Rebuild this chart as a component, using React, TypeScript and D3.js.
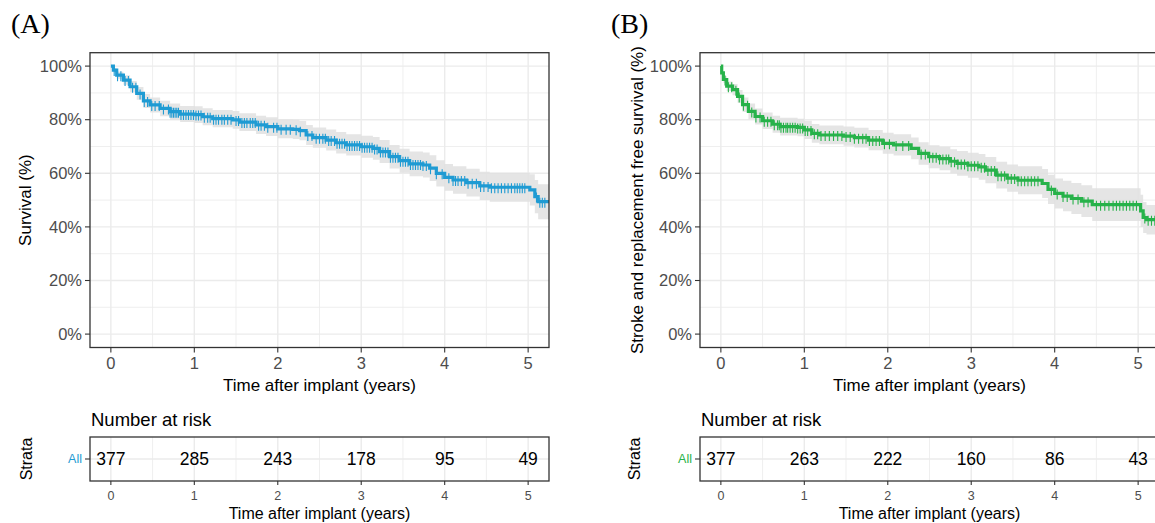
import React from 'react';
import * as d3 from 'd3';

// Panel A: overall survival, step knots (years, %)
const timesA = [0, 0.03, 0.07, 0.15, 0.23, 0.31, 0.39, 0.47, 0.59, 0.71, 0.83, 1.0, 1.1, 1.22, 1.46, 1.54, 1.74, 1.86, 2.0, 2.18, 2.26, 2.34, 2.42, 2.58, 2.7, 2.82, 3.0, 3.14, 3.22, 3.34, 3.46, 3.58, 3.74, 3.82, 3.9, 4.0, 4.1, 4.26, 4.42, 4.54, 5.02, 5.08, 5.12];
const survA = [100, 98.5, 96.6, 94.8, 92.3, 89.8, 87.0, 85.5, 84.2, 83.0, 82.1, 81.9, 81.1, 80.4, 79.9, 79.1, 78.1, 77.4, 76.6, 76.4, 75.9, 74.3, 73.3, 72.4, 71.4, 70.6, 69.9, 69.3, 68.1, 66.2, 64.7, 63.5, 63.1, 61.9, 60.0, 58.5, 57.5, 56.5, 55.3, 54.8, 53.8, 51.3, 49.4];
const upperA = [100, 99.3, 97.9, 96.6, 94.4, 92.2, 89.6, 88.3, 87.1, 86.0, 85.1, 85.0, 84.3, 83.6, 83.2, 82.4, 81.5, 80.9, 80.1, 80.0, 79.5, 78.0, 77.1, 76.3, 75.4, 74.6, 74.0, 73.5, 72.4, 70.6, 69.2, 68.1, 67.8, 66.7, 64.9, 63.5, 62.6, 61.7, 60.6, 60.2, 59.6, 57.5, 55.9];
const lowerA = [100, 97.7, 95.3, 93.0, 90.2, 87.4, 84.4, 82.7, 81.3, 80.0, 79.1, 78.8, 77.9, 77.2, 76.6, 75.8, 74.7, 73.9, 73.1, 72.8, 72.3, 70.6, 69.5, 68.5, 67.4, 66.6, 65.8, 65.1, 63.8, 61.8, 60.2, 58.9, 58.4, 57.1, 55.1, 53.5, 52.4, 51.3, 50.0, 49.4, 48.0, 45.1, 42.9];
const censorA = [0.04, 0.08, 0.12, 0.17, 0.21, 0.26, 0.3, 0.35, 0.4, 0.44, 0.49, 0.53, 0.58, 0.63, 0.69, 0.71, 0.73, 0.75, 0.77, 0.79, 0.81, 0.84, 0.87, 0.9, 0.93, 0.96, 0.99, 1.02, 1.05, 1.08, 1.12, 1.16, 1.19, 1.23, 1.26, 1.29, 1.33, 1.36, 1.4, 1.44, 1.5, 1.53, 1.57, 1.6, 1.63, 1.67, 1.7, 1.73, 1.77, 1.8, 1.84, 1.88, 1.95, 1.99, 2.04, 2.1, 2.15, 2.22, 2.27, 2.36, 2.41, 2.46, 2.5, 2.54, 2.57, 2.61, 2.64, 2.68, 2.71, 2.74, 2.77, 2.8, 2.83, 2.86, 2.89, 2.92, 2.95, 2.98, 3.01, 3.04, 3.07, 3.1, 3.13, 3.16, 3.19, 3.23, 3.26, 3.29, 3.32, 3.35, 3.38, 3.41, 3.44, 3.47, 3.5, 3.53, 3.56, 3.59, 3.62, 3.65, 3.68, 3.71, 3.74, 3.78, 3.83, 3.9, 3.97, 4.05, 4.1, 4.13, 4.16, 4.2, 4.24, 4.28, 4.33, 4.38, 4.43, 4.47, 4.52, 4.56, 4.6, 4.64, 4.68, 4.72, 4.76, 4.8, 4.84, 4.87, 4.9, 4.93, 4.96, 5.1, 5.14, 5.17, 5.2];
const riskA = [377, 285, 243, 178, 95, 49];

// Panel B: stroke and replacement free survival
const timesB = [0, 0.01, 0.03, 0.07, 0.14, 0.2, 0.26, 0.33, 0.41, 0.5, 0.62, 0.71, 0.92, 1.0, 1.09, 1.18, 1.47, 1.6, 1.77, 1.94, 2.07, 2.28, 2.37, 2.49, 2.62, 2.75, 2.83, 2.96, 3.09, 3.17, 3.3, 3.43, 3.56, 3.85, 3.92, 4.0, 4.1, 4.2, 4.32, 4.45, 5.03, 5.06, 5.1];
const survB = [100, 97.5, 95.0, 92.5, 91.2, 88.7, 85.6, 83.1, 81.2, 79.6, 78.3, 77.4, 77.1, 76.2, 74.9, 74.3, 73.9, 73.3, 72.4, 71.2, 70.6, 69.3, 67.4, 66.2, 65.5, 64.5, 63.7, 63.0, 62.4, 61.2, 59.3, 58.2, 57.4, 56.2, 54.0, 52.5, 51.5, 50.6, 49.6, 48.3, 46.0, 43.5, 42.7];
const upperB = [100, 98.3, 96.3, 94.3, 93.3, 91.1, 88.3, 86.0, 84.2, 82.7, 81.5, 80.7, 80.4, 79.6, 78.4, 77.8, 77.5, 77.0, 76.2, 75.1, 74.6, 73.4, 71.6, 70.5, 69.9, 69.0, 68.3, 67.7, 67.2, 66.1, 64.3, 63.3, 62.6, 61.6, 59.5, 58.1, 57.2, 56.4, 55.5, 54.4, 52.0, 49.3, 48.2];
const lowerB = [100, 96.7, 93.7, 90.7, 89.1, 86.3, 82.9, 80.2, 78.2, 76.5, 75.1, 74.1, 73.8, 72.8, 71.4, 70.8, 70.3, 69.6, 68.6, 67.3, 66.6, 65.2, 63.2, 61.9, 61.1, 60.0, 59.1, 58.3, 57.6, 56.3, 54.3, 53.1, 52.2, 50.8, 48.5, 46.9, 45.8, 44.8, 43.7, 42.2, 40.0, 37.7, 37.2];
const censorB = [0.05, 0.09, 0.13, 0.18, 0.22, 0.27, 0.32, 0.37, 0.42, 0.47, 0.52, 0.56, 0.6, 0.64, 0.68, 0.7, 0.72, 0.75, 0.78, 0.8, 0.83, 0.86, 0.89, 0.92, 0.95, 0.98, 1.01, 1.04, 1.08, 1.12, 1.16, 1.2, 1.25, 1.3, 1.35, 1.4, 1.45, 1.5, 1.55, 1.6, 1.65, 1.7, 1.74, 1.78, 1.82, 1.86, 1.9, 1.96, 2.02, 2.1, 2.18, 2.25, 2.4, 2.45, 2.5, 2.54, 2.58, 2.62, 2.66, 2.7, 2.73, 2.76, 2.8, 2.84, 2.88, 2.92, 2.96, 3.0, 3.04, 3.08, 3.12, 3.16, 3.2, 3.24, 3.28, 3.32, 3.36, 3.4, 3.44, 3.48, 3.52, 3.56, 3.6, 3.64, 3.68, 3.72, 3.76, 3.8, 3.96, 4.03, 4.1, 4.15, 4.22, 4.28, 4.35, 4.4, 4.5, 4.55, 4.6, 4.65, 4.7, 4.74, 4.78, 4.82, 4.86, 4.9, 4.94, 4.98, 5.08, 5.12, 5.16, 5.2];
const riskB = [377, 263, 222, 160, 86, 43];

const xTicks = [0, 1, 2, 3, 4, 5];
const yTicks = [0, 20, 40, 60, 80, 100];
const xLabel = 'Time after implant (years)';

const SANS = '"Liberation Sans", Arial, sans-serif';
const SERIF = '"Liberation Serif", "Times New Roman", serif';
const GRID = '#ebebeb';
const BORDER = '#333333';
const TICKTXT = '#4d4d4d';

function KMPanel(props) {
  const { id, left, tag, tagX, yTitle, yTitleX, strataX, color, times, surv, lower, upper, censor, risk } = props;
  const top = 52.7, bottom = 347.5, width = 459;
  const tTop = 437, tBottom = 481;
  const x = d3.scaleLinear().domain([-0.25, 5.25]).range([left, left + width]);
  const y = d3.scaleLinear().domain([-5, 105]).range([bottom, top]);

  const pts = times.map((t, i) => ({ t, s: surv[i], lo: lower[i], hi: upper[i] }));
  const last = pts[pts.length - 1];
  pts.push({ t: 5.25, s: last.s, lo: last.lo, hi: last.hi });

  const line = d3.line().curve(d3.curveStepAfter).x(d => x(d.t)).y(d => y(d.s));
  const band = d3.area().curve(d3.curveStepAfter).x(d => x(d.t)).y0(d => y(d.lo)).y1(d => y(d.hi));
  const bis = d3.bisector(d => d.t).right;
  const survAt = t => pts[Math.max(0, bis(pts, t) - 1)].s;

  const minorX = [-0.5, 0.5, 1.5, 2.5, 3.5, 4.5];
  const minorY = [10, 30, 50, 70, 90];
  const rowY = (tTop + tBottom) / 2;

  return (
    <g>
      <defs>
        <clipPath id={'clip' + id}><rect x={left} y={top} width={width} height={bottom - top} /></clipPath>
        <clipPath id={'tclip' + id}><rect x={left} y={tTop} width={width} height={tBottom - tTop} /></clipPath>
      </defs>
      <text x={tagX} y={33} fontFamily={SERIF} fontSize={28}>{tag}</text>

      {/* main plot */}
      <g clipPath={`url(#clip${id})`}>
        {minorY.map(v => <line key={'my' + v} x1={left} x2={left + width} y1={y(v)} y2={y(v)} stroke={GRID} strokeWidth={0.8} />)}
        {minorX.map(v => <line key={'mx' + v} x1={x(v)} x2={x(v)} y1={top} y2={bottom} stroke={GRID} strokeWidth={0.8} />)}
        {yTicks.map(v => <line key={'gy' + v} x1={left} x2={left + width} y1={y(v)} y2={y(v)} stroke={GRID} strokeWidth={1.4} />)}
        {xTicks.map(v => <line key={'gx' + v} x1={x(v)} x2={x(v)} y1={top} y2={bottom} stroke={GRID} strokeWidth={1.4} />)}
        <path d={band(pts)} fill="#e0e0e0" opacity={0.85} />
        <path d={line(pts)} fill="none" stroke={color} strokeWidth={3.2} />
        {censor.map((t, i) => {
          const cy = y(survAt(t));
          return <line key={'c' + i} x1={x(t)} x2={x(t)} y1={cy - 4} y2={cy + 6} stroke={color} strokeWidth={1.1} />;
        })}
      </g>
      <rect x={left} y={top} width={width} height={bottom - top} fill="none" stroke={BORDER} strokeWidth={1.3} />
      {yTicks.map(v => (
        <g key={'yt' + v}>
          <line x1={left - 5} x2={left} y1={y(v)} y2={y(v)} stroke={BORDER} strokeWidth={1.1} />
          <text x={left - 8} y={y(v)} dy="0.35em" textAnchor="end" fontFamily={SANS} fontSize={16.5} fill={TICKTXT}>{v + '%'}</text>
        </g>
      ))}
      {xTicks.map(v => (
        <g key={'xt' + v}>
          <line x1={x(v)} x2={x(v)} y1={bottom} y2={bottom + 5} stroke={BORDER} strokeWidth={1.1} />
          <text x={x(v)} y={369} textAnchor="middle" fontFamily={SANS} fontSize={16.5} fill={TICKTXT}>{v}</text>
        </g>
      ))}
      <text x={left + width / 2} y={391} textAnchor="middle" fontFamily={SANS} fontSize={17}>{xLabel}</text>
      <text transform={`translate(${yTitleX},${(top + bottom) / 2}) rotate(-90)`} dy="0.35em" textAnchor="middle" fontFamily={SANS} fontSize={17}>{yTitle}</text>

      {/* risk table */}
      <text x={left + 1} y={426} fontFamily={SANS} fontSize={18.5}>Number at risk</text>
      <g clipPath={`url(#tclip${id})`}>
        {minorX.map(v => <line key={'tmx' + v} x1={x(v)} x2={x(v)} y1={tTop} y2={tBottom} stroke={GRID} strokeWidth={0.8} />)}
        {xTicks.map(v => <line key={'tgx' + v} x1={x(v)} x2={x(v)} y1={tTop} y2={tBottom} stroke={GRID} strokeWidth={1.4} />)}
        <line x1={left} x2={left + width} y1={rowY} y2={rowY} stroke={GRID} strokeWidth={1.4} />
      </g>
      {risk.map((n, i) => (
        <text key={'r' + i} x={x(xTicks[i])} y={rowY} dy="0.36em" textAnchor="middle" fontFamily={SANS} fontSize={17.5}>{n}</text>
      ))}
      <rect x={left} y={tTop} width={width} height={tBottom - tTop} fill="none" stroke={BORDER} strokeWidth={1.3} />
      <line x1={left - 5} x2={left} y1={rowY} y2={rowY} stroke={BORDER} strokeWidth={1.1} />
      <text x={left - 8} y={rowY} dy="0.35em" textAnchor="end" fontFamily={SANS} fontSize={12.5} fill={color}>All</text>
      <text transform={`translate(${strataX},${rowY}) rotate(-90)`} dy="0.35em" textAnchor="middle" fontFamily={SANS} fontSize={16}>Strata</text>
      {xTicks.map(v => (
        <g key={'tt' + v}>
          <line x1={x(v)} x2={x(v)} y1={tBottom} y2={tBottom + 4} stroke={BORDER} strokeWidth={1.1} />
          <text x={x(v)} y={500} textAnchor="middle" fontFamily={SANS} fontSize={12.5} fill={TICKTXT}>{v}</text>
        </g>
      ))}
      <text x={left + width / 2} y={519} textAnchor="middle" fontFamily={SANS} fontSize={16}>{xLabel}</text>
    </g>
  );
}

export default function App() {
  return (
    <div>
      <style>{'body{margin:0;}'}</style>
      <svg width={1155} height={523} style={{ display: 'block', background: '#fff' }}>
        <rect width={1155} height={523} fill="#fff" />
        <KMPanel id="A" left={90} tag="(A)" tagX={11} yTitle="Survival (%)" yTitleX={25} strataX={26}
          color="#1f9bd3" times={timesA} surv={survA} lower={lowerA} upper={upperA} censor={censorA} risk={riskA} />
        <KMPanel id="B" left={700} tag="(B)" tagX={611} yTitle="Stroke and replacement free survival (%)" yTitleX={637} strataX={634}
          color="#27b24a" times={timesB} surv={survB} lower={lowerB} upper={upperB} censor={censorB} risk={riskB} />
      </svg>
    </div>
  );
}
